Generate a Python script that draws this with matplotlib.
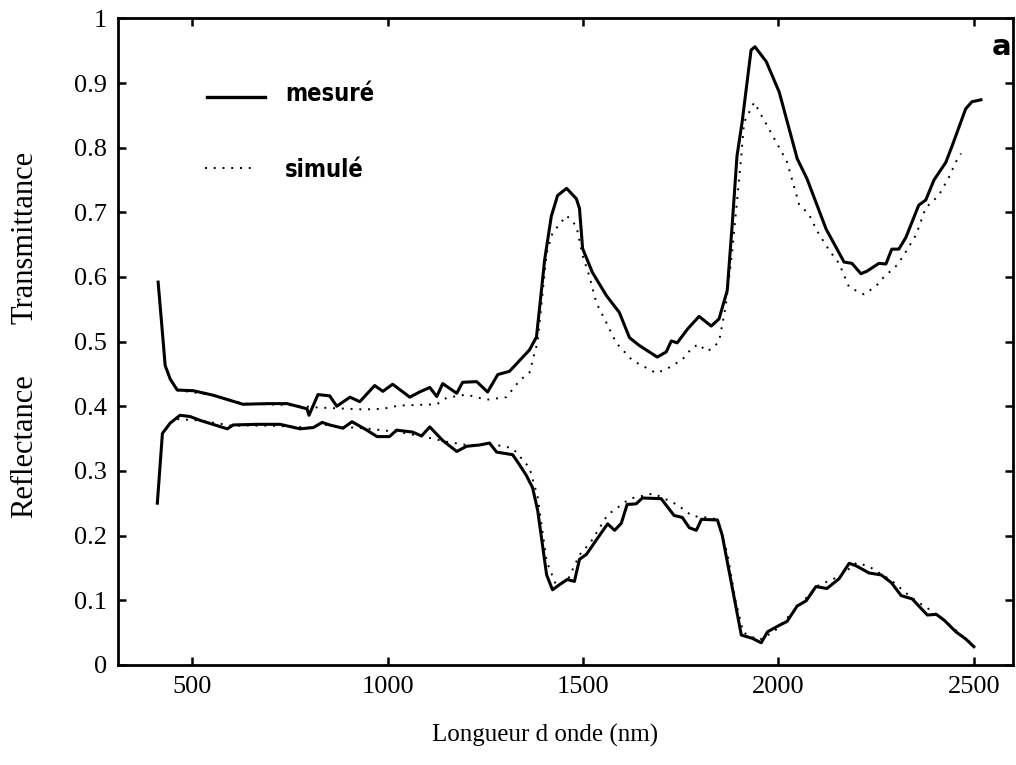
import matplotlib
matplotlib.use("Agg")
import matplotlib.pyplot as plt
from matplotlib import font_manager

# wavelength (nm) and values
wl_t_mes = [413, 424, 431, 444, 462, 503, 554, 630, 692, 743, 794, 799, 822, 852, 870,
            904, 929, 967, 988, 1013, 1057, 1082, 1108, 1126, 1141, 1177, 1192, 1228,
            1256, 1282, 1312, 1363, 1381, 1402, 1419, 1435, 1458, 1483, 1491, 1499,
            1524, 1560, 1593, 1619, 1644, 1690, 1713, 1726, 1741, 1767, 1797, 1828,
            1848, 1869, 1882, 1894, 1907, 1930, 1940, 1969, 2002, 2048, 2073, 2122,
            2168, 2188, 2211, 2227, 2257, 2275, 2290, 2308, 2326, 2359, 2377, 2398,
            2428, 2444, 2479, 2495, 2518]
t_mes = [0.592, 0.514, 0.463, 0.442, 0.425, 0.424, 0.417, 0.403, 0.404, 0.404, 0.396,
         0.386, 0.418, 0.416, 0.400, 0.414, 0.407, 0.432, 0.423, 0.434, 0.414, 0.422,
         0.429, 0.415, 0.435, 0.420, 0.437, 0.438, 0.422, 0.449, 0.454, 0.487, 0.507,
         0.627, 0.694, 0.726, 0.737, 0.721, 0.706, 0.644, 0.607, 0.571, 0.545, 0.506,
         0.494, 0.476, 0.484, 0.501, 0.498, 0.519, 0.539, 0.524, 0.535, 0.579, 0.683,
         0.787, 0.839, 0.951, 0.956, 0.933, 0.886, 0.783, 0.752, 0.674, 0.623, 0.621,
         0.605, 0.609, 0.621, 0.620, 0.643, 0.643, 0.661, 0.711, 0.719, 0.750, 0.777,
         0.802, 0.860, 0.871, 0.874]

wl_t_sim = [462, 554, 630, 743, 822, 939, 988, 1029, 1126, 1151, 1202, 1253, 1304,
            1338, 1363, 1384, 1407, 1422, 1458, 1483, 1499, 1516, 1534, 1560, 1585,
            1626, 1688, 1721, 1754, 1780, 1797, 1815, 1830, 1848, 1865, 1882, 1905,
            1912, 1938, 1984, 2022, 2053, 2078, 2099, 2130, 2155, 2181, 2219, 2250,
            2265, 2303, 2321, 2352, 2377, 2410, 2436, 2454, 2467]
t_sim = [0.425, 0.417, 0.404, 0.402, 0.398, 0.395, 0.396, 0.401, 0.403, 0.413, 0.418,
         0.410, 0.414, 0.440, 0.452, 0.500, 0.637, 0.668, 0.695, 0.679, 0.633, 0.602,
         0.560, 0.529, 0.498, 0.471, 0.451, 0.460, 0.472, 0.491, 0.496, 0.485, 0.489,
         0.500, 0.554, 0.641, 0.787, 0.839, 0.870, 0.820, 0.778, 0.712, 0.697, 0.671,
         0.641, 0.621, 0.584, 0.573, 0.586, 0.597, 0.618, 0.634, 0.665, 0.707, 0.726,
         0.754, 0.778, 0.791]

wl_r_mes = [411, 424, 444, 469, 495, 521, 590, 605, 667, 725, 776, 810, 833, 852, 886,
            909, 947, 973, 1005, 1023, 1064, 1087, 1108, 1141, 1177, 1202, 1235, 1261,
            1279, 1320, 1338, 1355, 1371, 1384, 1407, 1422, 1440, 1460, 1478, 1491,
            1509, 1534, 1563, 1581, 1598, 1613, 1636, 1652, 1700, 1733, 1754, 1772,
            1790, 1803, 1844, 1856, 1882, 1905, 1933, 1956, 1972, 2002, 2022, 2048,
            2071, 2096, 2124, 2155, 2181, 2199, 2232, 2263, 2289, 2314, 2342, 2381,
            2404, 2424, 2454, 2479, 2500]
r_mes = [0.25, 0.358, 0.374, 0.386, 0.384, 0.378, 0.365, 0.371, 0.372, 0.372, 0.365,
         0.367, 0.375, 0.371, 0.366, 0.376, 0.363, 0.353, 0.353, 0.363, 0.360, 0.354,
         0.368, 0.347, 0.330, 0.338, 0.340, 0.343, 0.329, 0.325, 0.309, 0.293, 0.274,
         0.239, 0.139, 0.116, 0.124, 0.132, 0.129, 0.163, 0.171, 0.193, 0.218, 0.208,
         0.219, 0.248, 0.249, 0.258, 0.257, 0.231, 0.228, 0.212, 0.208, 0.225, 0.224,
         0.201, 0.119, 0.046, 0.041, 0.034, 0.051, 0.061, 0.067, 0.091, 0.099, 0.121,
         0.118, 0.133, 0.157, 0.153, 0.142, 0.139, 0.127, 0.107, 0.102, 0.077, 0.078,
         0.069, 0.051, 0.040, 0.028]

wl_r_sim = [462, 520, 600, 700, 800, 830, 880, 939, 1029, 1100, 1151, 1202, 1279, 1320,
            1363, 1384, 1407, 1430, 1460, 1491, 1520, 1563, 1620, 1680, 1740, 1780,
            1815, 1845, 1870, 1890, 1910, 1950, 1990, 2050, 2100, 2160, 2200, 2232,
            2290, 2340, 2400, 2430, 2470, 2500]
r_sim = [0.380, 0.378, 0.370, 0.370, 0.367, 0.372, 0.368, 0.366, 0.360, 0.352, 0.345,
         0.340, 0.340, 0.335, 0.305, 0.260, 0.160, 0.125, 0.130, 0.170, 0.190, 0.232,
         0.257, 0.265, 0.248, 0.230, 0.228, 0.225, 0.170, 0.100, 0.050, 0.038, 0.052,
         0.090, 0.122, 0.138, 0.158, 0.152, 0.130, 0.104, 0.080, 0.066, 0.045, 0.030]

xticks = [500, 1000, 1500, 2000, 2500]
yticks = [0, 0.1, 0.2, 0.3, 0.4, 0.5, 0.6, 0.7, 0.8, 0.9, 1]
ytick_labels = ["0", "0.1", "0.2", "0.3", "0.4", "0.5", "0.6", "0.7", "0.8", "0.9", "1"]

serif = "Liberation Serif"

# condensed bold sans for the legend labels, if one is installed
cond_file = None
for f in font_manager.fontManager.ttflist:
    fn = f.fname.replace("\\", "/").split("/")[-1]
    if fn in ("LiberationSansNarrow-Bold.ttf", "DejaVuSansCondensed-Bold.ttf"):
        cond_file = f.fname
        break
if cond_file:
    leg_font = font_manager.FontProperties(fname=cond_file, size=17)
else:
    leg_font = font_manager.FontProperties(family="DejaVu Sans", weight="bold", size=15)

fig = plt.figure(figsize=(10.16, 7.65), dpi=100)
ax = fig.add_axes([0.116, 0.131, 0.881, 0.845])

ax.plot(wl_t_mes, t_mes, color="black", lw=2.2, solid_joinstyle="round")
ax.plot(wl_r_mes, r_mes, color="black", lw=2.2, solid_joinstyle="round")
ax.plot(wl_t_sim, t_sim, color="black", lw=1.4, linestyle=(0, (1, 3.5)))
ax.plot(wl_r_sim, r_sim, color="black", lw=1.4, linestyle=(0, (1, 3.5)))

ax.set_xlim(310, 2600)
ax.set_ylim(0, 1)
ax.set_xticks(xticks)
ax.set_yticks(yticks)
ax.set_yticklabels(ytick_labels)
ax.tick_params(direction="in", length=6, width=1.8, top=True, right=True,
               labelsize=19, pad=8)
for lab in ax.get_xticklabels() + ax.get_yticklabels():
    lab.set_fontfamily(serif)
for sp in ax.spines.values():
    sp.set_linewidth(2)

# hand-drawn style legend
ax.plot([537, 686], [0.878, 0.878], color="black", lw=2.4)
ax.plot([532, 665], [0.768, 0.768], color="black", lw=1.4, linestyle=(0, (1, 3.5)))
ax.text(737, 0.883, "mesuré", fontproperties=leg_font, va="center", ha="left")
ax.text(737, 0.766, "simulé", fontproperties=leg_font, va="center", ha="left")
ax.text(2595, 0.955, "a", fontsize=21, fontweight="bold", family="DejaVu Sans",
        va="center", ha="right")

fig.text(25 / 1016, 1 - 237 / 765, "Transmittance", rotation=90, fontsize=22,
         family=serif, ha="center", va="center")
fig.text(25 / 1016, 1 - 446 / 765, "Reflectance", rotation=90, fontsize=22,
         family=serif, ha="center", va="center")
fig.text(545 / 1016, 1 - 735 / 765, "Longueur d onde (nm)", fontsize=18,
         family=serif, ha="center", va="center")

fig.savefig("out.png", dpi=100)
